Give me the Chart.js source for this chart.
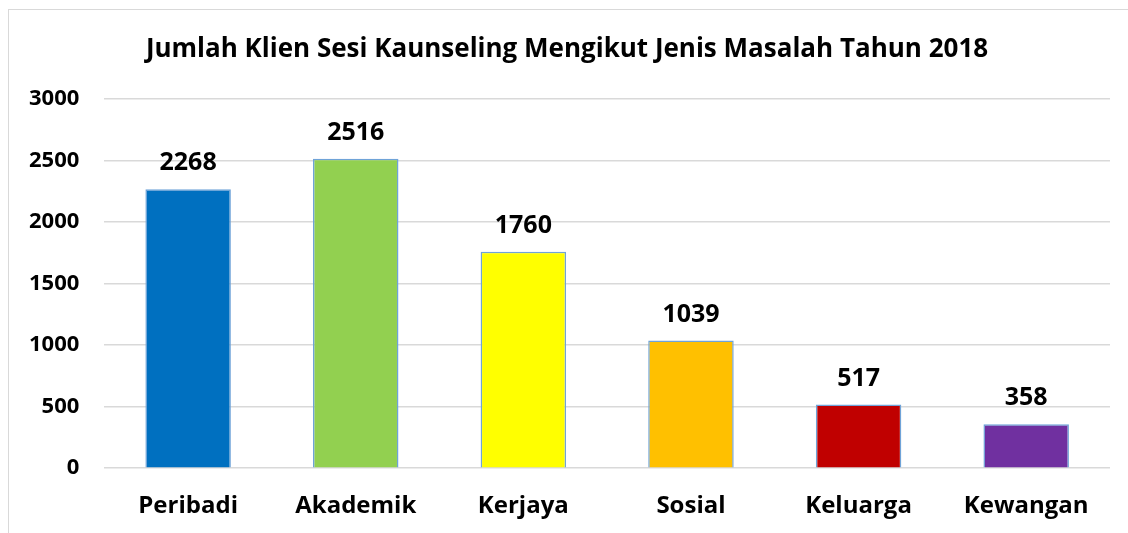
<!DOCTYPE html>
<html>
<head>
<meta charset="utf-8">
<script src="https://cdn.jsdelivr.net/npm/chart.js@4"></script>
<style>
  html, body { margin: 0; padding: 0; background: #fff; width: 1128px; height: 533px; overflow: hidden; }
  #frame {
    position: absolute; left: 8px; top: 9px; width: 1130px; height: 540px;
    border-left: 1px solid #d9d9d9; border-top: 1px solid #d9d9d9;
  }
  #wrap { position: absolute; left: 0; top: 0; width: 1128px; height: 537px; }
</style>
</head>
<body>
<div id="frame"></div>
<div id="wrap"><canvas id="chart"></canvas></div>
<script>
const categories = ["Peribadi", "Akademik", "Kerjaya", "Sosial", "Keluarga", "Kewangan"];
const clients = [2268, 2516, 1760, 1039, 517, 358];
const barColors = ["#0070c0", "#92d050", "#ffff00", "#ffc000", "#c00000", "#7030a0"];
const yTicks = [0, 500, 1000, 1500, 2000, 2500, 3000];

const FONT = "'Open Sans', 'DejaVu Sans', sans-serif";

// draw the bold numbers above each bar
const valueLabels = {
  id: "valueLabels",
  afterDatasetsDraw(chart) {
    const ctx = chart.ctx;
    const meta = chart.getDatasetMeta(0);
    ctx.save();
    ctx.font = "bold 25px " + FONT;
    ctx.fillStyle = "#000";
    ctx.textAlign = "center";
    ctx.textBaseline = "middle";
    meta.data.forEach((bar, i) => {
      ctx.fillText(String(clients[i]), bar.x, bar.y - 26);
    });
    ctx.restore();
  }
};

new Chart(document.getElementById("chart").getContext("2d"), {
  type: "bar",
  data: {
    labels: categories,
    datasets: [{
      data: clients,
      backgroundColor: barColors,
      borderColor: "#6fa3d8",
      borderWidth: 1.5,
      categoryPercentage: 1,
      barPercentage: 0.51
    }]
  },
  options: {
    responsive: true,
    maintainAspectRatio: false,
    animation: false,
    devicePixelRatio: 1,
    layout: { padding: { left: 24, right: 18, top: 0, bottom: 0 } },
    plugins: {
      legend: { display: false },
      tooltip: { enabled: false },
      title: {
        display: true,
        text: "Jumlah Klien Sesi Kaunseling Mengikut Jenis Masalah Tahun 2018",
        color: "#000",
        font: { family: FONT, size: 26, weight: "bold" },
        padding: { top: 34, bottom: 34 }
      }
    },
    scales: {
      y: {
        min: 0,
        max: 3000,
        afterBuildTicks: axis => { axis.ticks = yTicks.map(v => ({ value: v })); },
        // keep the plot starting where the original one does while the title stays centred
        afterFit: axis => { axis.width -= 20; },
        border: { display: false },
        grid: { color: "#d9d9d9", lineWidth: 1.5, drawTicks: false },
        ticks: {
          color: "#000",
          padding: 25,
          callback: v => String(v),
          font: { family: FONT, size: 22, weight: "bold" }
        }
      },
      x: {
        border: { display: false },
        grid: { display: false },
        ticks: {
          color: "#000",
          padding: 16,
          font: { family: FONT, size: 24, weight: "bold" }
        }
      }
    }
  },
  plugins: [valueLabels]
});
</script>
</body>
</html>
